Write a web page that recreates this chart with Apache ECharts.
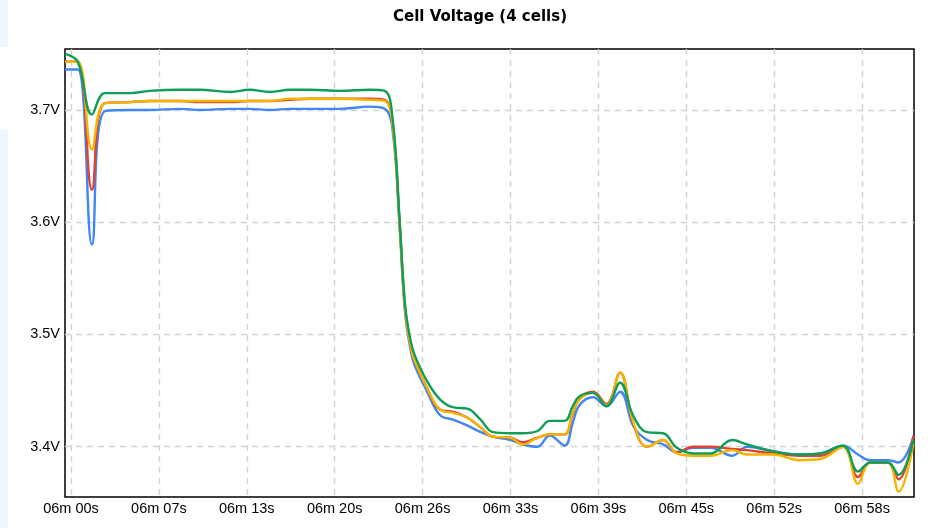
<!DOCTYPE html>
<html>
<head>
<meta charset="utf-8">
<style>
	html, body { margin: 0; padding: 0; background: #fff; }
	#chart { width: 941px; height: 528px; }
</style>
<script src="https://cdn.jsdelivr.net/npm/echarts@6/dist/echarts.min.js"></script>
</head>
<body>
<div id="chart"></div>
<script>
	// seconds after 06m 00s
	var timeSec = [-0.44, 0.5, 1.55, 2.5, 4.4, 5.8, 8.1, 9.5, 11.8, 13.2, 14.7, 16.2, 17.7, 19.9, 22.1, 23.2,
		23.8, 24.3, 24.7, 25.1, 25.4, 26.3, 27.3, 28.3, 29.3, 30.3, 31.2, 32.5, 33.4, 34.5, 35.4, 36.5,
		37.1, 37.6, 38.6, 39.6, 40.6, 41.6, 42.6, 43.8, 44.8, 46.0, 47.3, 48.9, 50.0, 51.9, 53.9, 55.4,
		57.1, 58.2, 59.1, 60.4, 61.2, 62.3];

	var cell1 = [3.736, 3.736, 3.580, 3.699, 3.700, 3.700, 3.701, 3.700, 3.701, 3.701, 3.700, 3.701, 3.701, 3.701, 3.703, 3.701,
		3.680, 3.596, 3.520, 3.487, 3.473, 3.450, 3.428, 3.424, 3.419, 3.413, 3.409, 3.406, 3.402, 3.400, 3.410, 3.401,
		3.421, 3.437, 3.444, 3.436, 3.449, 3.418, 3.406, 3.402, 3.395, 3.399, 3.399, 3.392, 3.400, 3.396, 3.393, 3.394,
		3.401, 3.393, 3.388, 3.388, 3.386, 3.409];
	var cell2 = [3.743, 3.743, 3.629, 3.706, 3.707, 3.708, 3.708, 3.707, 3.707, 3.708, 3.708, 3.709, 3.710, 3.710, 3.710, 3.709,
		3.686, 3.600, 3.524, 3.490, 3.477, 3.453, 3.433, 3.431, 3.426, 3.417, 3.409, 3.408, 3.404, 3.408, 3.411, 3.411,
		3.429, 3.443, 3.449, 3.438, 3.466, 3.420, 3.400, 3.406, 3.395, 3.400, 3.400, 3.398, 3.397, 3.394, 3.392, 3.392,
		3.400, 3.373, 3.386, 3.386, 3.371, 3.410];
	var cell3 = [3.743, 3.743, 3.665, 3.706, 3.707, 3.708, 3.708, 3.708, 3.708, 3.708, 3.708, 3.710, 3.710, 3.710, 3.709, 3.708,
		3.684, 3.598, 3.522, 3.490, 3.477, 3.453, 3.433, 3.430, 3.426, 3.417, 3.409, 3.408, 3.402, 3.408, 3.411, 3.411,
		3.430, 3.442, 3.448, 3.437, 3.466, 3.421, 3.400, 3.406, 3.394, 3.392, 3.392, 3.397, 3.393, 3.393, 3.388, 3.389,
		3.400, 3.367, 3.386, 3.386, 3.360, 3.403];
	var cell4 = [3.750, 3.743, 3.696, 3.715, 3.715, 3.717, 3.718, 3.718, 3.716, 3.718, 3.716, 3.718, 3.718, 3.717, 3.718, 3.717,
		3.690, 3.602, 3.527, 3.495, 3.482, 3.459, 3.442, 3.435, 3.434, 3.424, 3.413, 3.412, 3.412, 3.414, 3.423, 3.423,
		3.436, 3.445, 3.448, 3.436, 3.457, 3.427, 3.413, 3.412, 3.399, 3.394, 3.394, 3.406, 3.402, 3.396, 3.393, 3.394,
		3.401, 3.378, 3.386, 3.386, 3.375, 3.406];

	var cellNames = ['Cell 1', 'Cell 2', 'Cell 3', 'Cell 4'];
	var cellColors = ['#4285f4', '#db4437', '#f4b400', '#0f9d58'];
	var xTickSec = [0, 6.5, 13, 19.5, 26, 32.5, 39, 45.5, 52, 58.5];
	var xTickLabels = ['06m 00s', '06m 07s', '06m 13s', '06m 20s', '06m 26s', '06m 33s', '06m 39s', '06m 45s', '06m 52s', '06m 58s'];
	var yTicks = [3.4, 3.5, 3.6, 3.7];

	var chart = echarts.init(document.getElementById('chart'));

	var series = [cell1, cell2, cell3, cell4].map(function(vals, k) {
		return {
			name: cellNames[k],
			type: 'line',
			smooth: 0.4,
			showSymbol: false,
			color: cellColors[k],
			lineStyle: { width: 2.4 },
			data: timeSec.map(function(t, i) { return [t, vals[i]]; })
		};
	});

	var gridLine = {
		show: true,
		lineStyle: { color: '#d2d2d2', type: [6, 5], width: 1.4 }
	};

	chart.setOption({
		backgroundColor: '#fff',
		animation: false,
		title: {
			text: 'Cell Voltage (4 cells)',
			left: 475,
			textAlign: 'center',
			top: 5,
			textStyle: {
				fontFamily: 'DejaVu Sans',
				fontWeight: 'bold',
				fontSize: 15,
				color: '#000'
			}
		},
		graphic: [
			{ type: 'rect', shape: { x: 0, y: 0, width: 8, height: 47 }, style: { fill: '#eef6ff' } },
			{ type: 'rect', shape: { x: 0, y: 130, width: 8, height: 398 }, style: { fill: '#eef6ff' } }
		],
		grid: {
			left: 65,
			right: 27,
			top: 49,
			bottom: 31,
			show: true,
			borderColor: '#000',
			borderWidth: 1.5
		},
		xAxis: {
			type: 'value',
			min: -0.444,
			max: 62.34,
			axisLine: { show: false },
			axisTick: { show: false, customValues: xTickSec },
			axisLabel: {
				customValues: xTickSec,
				color: '#000',
				fontFamily: 'Liberation Sans',
				fontSize: 14.5,
				margin: 4,
				formatter: function(v) {
					return xTickLabels[Math.round(v / 6.5)];
				}
			},
			splitLine: gridLine
		},
		yAxis: {
			type: 'value',
			min: 3.3552,
			max: 3.7543,
			axisLine: { show: false },
			axisTick: { show: false, customValues: yTicks },
			axisLabel: {
				customValues: yTicks,
				color: '#000',
				fontFamily: 'Liberation Sans',
				fontSize: 14.5,
				margin: 5,
				formatter: function(v) {
					return v.toFixed(1) + 'V';
				}
			},
			splitLine: gridLine
		},
		series: series
	});
</script>
</body>
</html>
